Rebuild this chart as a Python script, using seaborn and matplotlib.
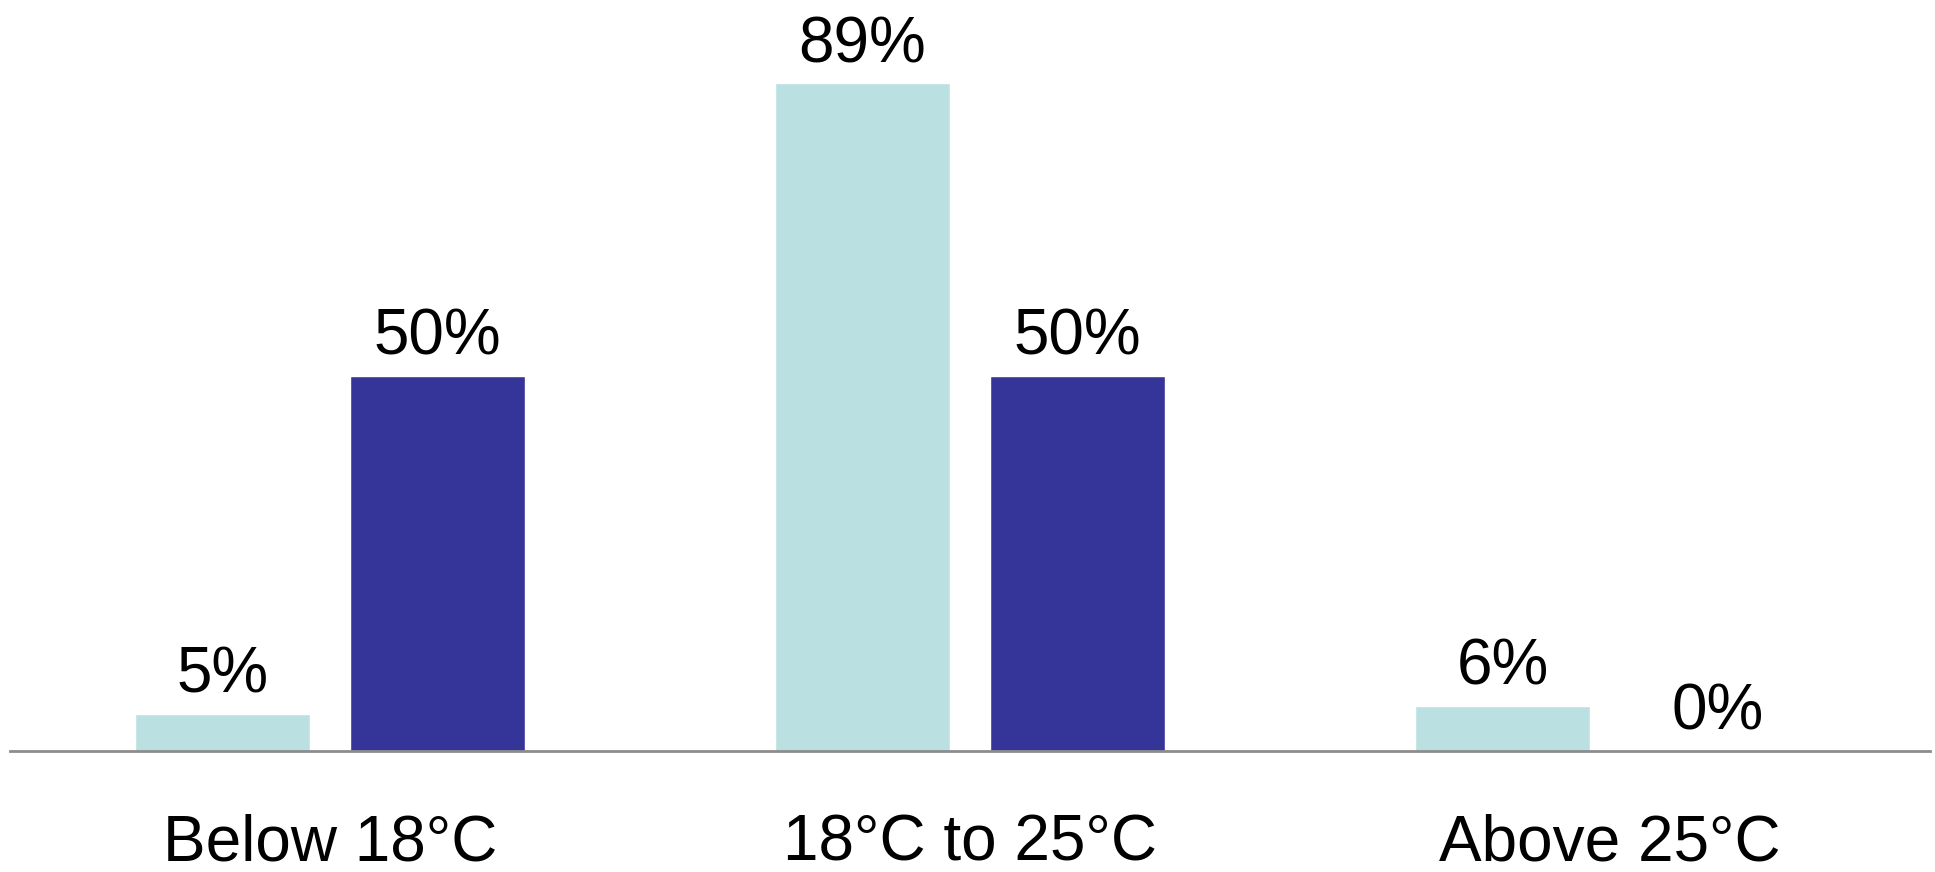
import matplotlib
matplotlib.use("Agg")
import matplotlib.pyplot as plt
import seaborn as sns
import pandas as pd

categories = ["Below 18°C", "18°C to 25°C", "Above 25°C"]
series_names = ["Series 1", "Series 2"]
series1_values = [5, 89, 6]
series2_values = [50, 50, 0]

colors = ["#BAE0E2", "#353499"]

sns.set_theme(style="white")
plt.rcParams["font.family"] = ["Liberation Sans", "DejaVu Sans"]

df = pd.DataFrame({
    "category": categories * 2,
    "series": [series_names[0]] * 3 + [series_names[1]] * 3,
    "value": series1_values + series2_values,
})

fig = plt.figure(figsize=(19.35, 8.72), dpi=100)
ax = fig.add_axes([10 / 1935, (872 - 751) / 872, 1920 / 1935, 751 / 872])

sns.barplot(data=df, x="category", y="value", hue="series", order=categories,
            hue_order=series_names, palette=colors, width=0.672, gap=0.19,
            saturation=1, legend=False, ax=ax)

ax.set_xlim(-0.5, 2.5)
ax.set_ylim(0, 751 / 7.5)

for cont in ax.containers:
    ax.bar_label(cont, labels=[f"{v:.0f}%" for v in cont.datavalues],
                 padding=6, fontsize=46, color="black")

ax.set_xlabel("")
ax.set_ylabel("")
ax.set_yticks([])
ax.tick_params(axis="x", length=0, pad=45, labelsize=46, labelcolor="black")
for s in ["top", "left", "right"]:
    ax.spines[s].set_visible(False)
ax.spines["bottom"].set_color("#8c8c8c")
ax.spines["bottom"].set_linewidth(2.0)

fig.savefig("out.png", dpi=100)
